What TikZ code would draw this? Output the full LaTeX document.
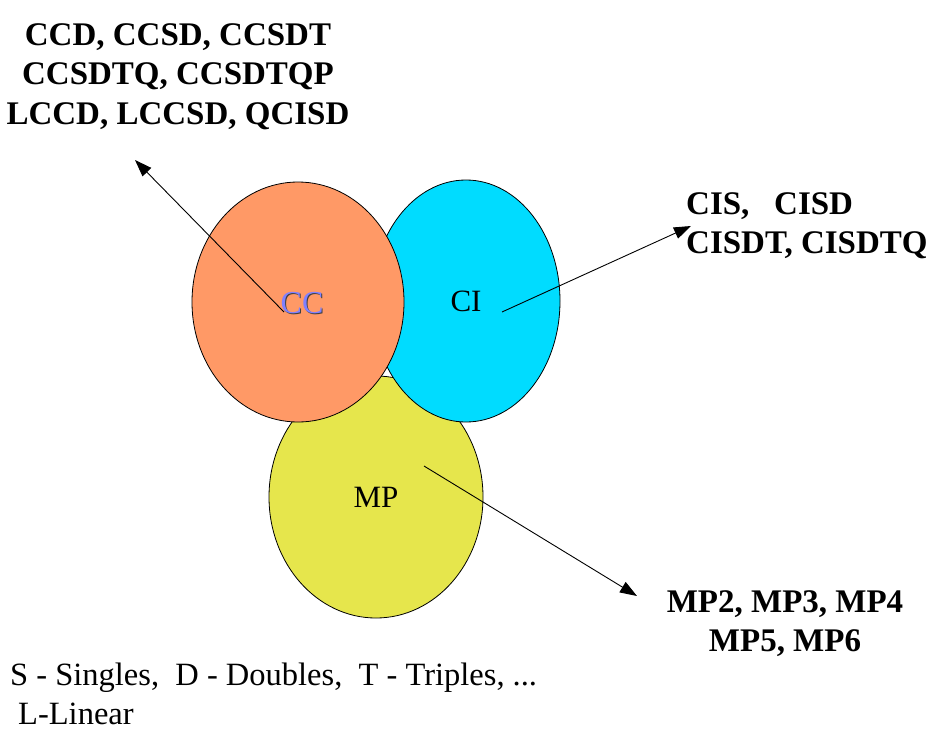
\documentclass[tikz,border=0pt]{standalone}
\usepackage{fontspec}
\setmainfont{Liberation Serif}
\usetikzlibrary{shapes.geometric, arrows.meta}

\definecolor{ccorange}{RGB}{255,153,102}
\definecolor{cicyan}{RGB}{0,220,255}
\definecolor{mpyellow}{RGB}{230,230,76}
\definecolor{ccblue}{RGB}{128,128,255}

\begin{document}
\begin{tikzpicture}[x=1pt, y=-1pt,
    blob/.style={ellipse, draw, line width=0.8pt, inner sep=0pt, font=\fontsize{31}{31}\selectfont},
    list/.style={font=\fontsize{33}{#1}\selectfont\bfseries, inner sep=0pt},
    ray/.style={-{Triangle[length=17pt,width=12pt]}, line width=0.9pt}]
  % page size
  \useasboundingbox (0,0) rectangle (932,731);
  % the three methods, MP at the back
  \node[blob, fill=mpyellow, minimum width=214, minimum height=242] (mp) at (376,497) {MP};
  \node[blob, fill=cicyan, minimum width=188, minimum height=242] (ci) at (466,301) {CI};
  \node[blob, fill=ccorange, minimum width=212, minimum height=240] (cc) at (298,302) {};
  \node[font=\fontsize{32}{32}\selectfont, text=black!75] (ccshadow) at (303,304) {CC};
  \node[font=\fontsize{32}{32}\selectfont, text=ccblue] (cclabel) at (302,303) {CC};
  % arrows out of each circle
  \coordinate (ccfrom) at (284,312);
  \coordinate (ccto) at (135,160);
  \coordinate (cifrom) at (502,312);
  \coordinate (cito) at (691,226);
  \coordinate (mpfrom) at (424,466);
  \coordinate (mpto) at (637,596);
  \draw[ray] (ccfrom) -- (ccto);
  \draw[ray] (cifrom) -- (cito);
  \draw[ray] (mpfrom) -- (mpto);
  % lists of methods
  \node[list=39.5, align=center, anchor=north] (cclist) at (178,23)
    {CCD, CCSD, CCSDT\\CCSDTQ, CCSDTQP\\LCCD, LCCSD, QCISD};
  \node[list=39, align=left, anchor=north west] (cilist) at (686,192)
    {CIS,\ \ \ CISD\\CISDT, CISDTQ};
  \node[list=39, align=center, anchor=north] (mplist) at (785,590)
    {MP2, MP3, MP4\\MP5, MP6};
  \node[font=\fontsize{32.5}{39}\selectfont, inner sep=0pt, align=left, anchor=north west] (legend) at (10,663)
    {S - Singles,\ \ D - Doubles,\ \ T - Triples, ...\\\hspace*{8pt}L-Linear};
\end{tikzpicture}
\end{document}
